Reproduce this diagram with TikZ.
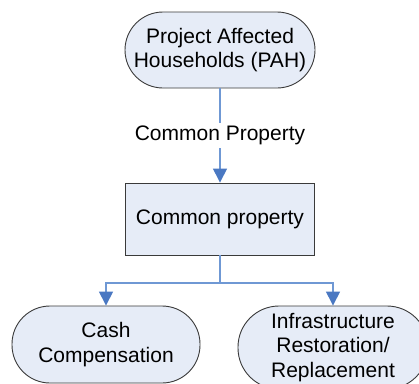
\documentclass[tikz,border=0pt]{standalone}
\usepackage{fontspec}
\setmainfont{Liberation Sans}
\usetikzlibrary{arrows.meta}
\definecolor{boxfill}{HTML}{E6ECF7}
\definecolor{boxline}{HTML}{3A3A3A}
\definecolor{linkblue}{HTML}{6F98D4}
\definecolor{tipblue}{HTML}{4A78C2}
\begin{document}
\begin{tikzpicture}[x=1pt,y=-1pt,
  every node/.style={font=\fontsize{21}{24.5}\selectfont, align=center, inner sep=0pt},
  pill/.style={draw=boxline, fill=boxfill, line width=0.9pt, rounded corners=#1},
  block/.style={draw=boxline, fill=boxfill, line width=0.9pt},
  link/.style={draw=linkblue, line width=1.4pt, -{Triangle[width=14pt,length=14pt,color=tipblue]}},
  plain/.style={draw=linkblue, line width=1.4pt}]
\useasboundingbox (0,0) rectangle (419,383);
\clip (0,0) rectangle (419,383);
\node[pill=38pt, minimum width=190pt, minimum height=76pt] (pah) at (220,50) {Project Affected\\Households (PAH)};
\node[block, minimum width=189pt, minimum height=72pt] (cp) at (220,219) {Common property};
\node[pill=38pt, minimum width=188pt, minimum height=77pt] (cash) at (106,344.5) {Cash\\Compensation};
\node[pill=41pt, minimum width=190pt, minimum height=83pt] (infra) at (333,347.5) {Infrastructure\\Restoration/\\Replacement};
\coordinate (split) at (220,283);
\draw[link] (pah) -- node[fill=white, inner sep=3pt] (lbl) {Common Property} (cp);
\draw[plain] (cp) -- (split);
\draw[link] (split) -| (cash);
\draw[link] (split) -| (infra);
\end{tikzpicture}
\end{document}
